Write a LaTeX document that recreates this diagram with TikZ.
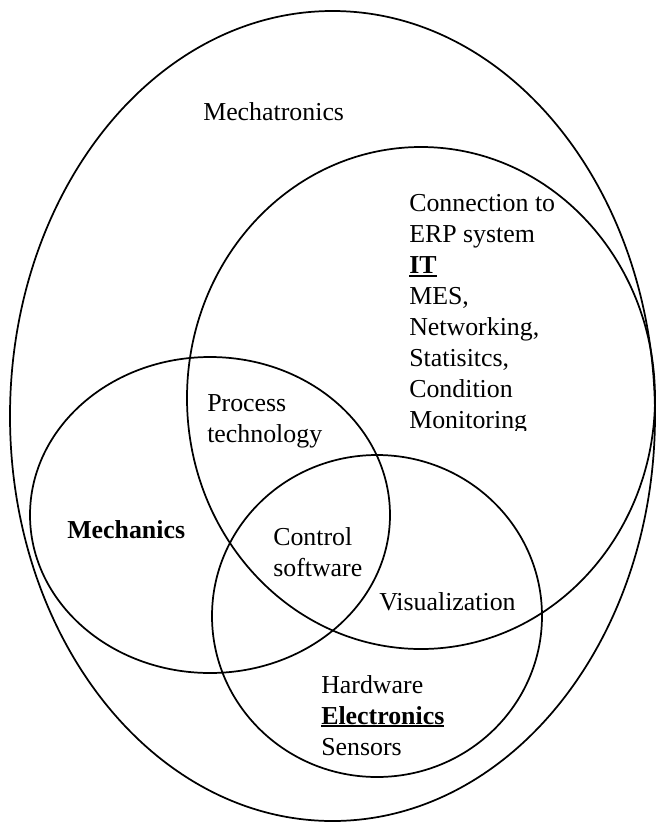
\documentclass[tikz,border=0pt]{standalone}
\usepackage{fontspec}
\setmainfont{Liberation Serif}
\usepackage{tikz}
\usetikzlibrary{positioning}

\newcommand{\thickul}[1]{\setbox0\hbox{#1}\rlap{\rule[-2.4pt]{\wd0}{1.6pt}}\box0}

\begin{document}
\begin{tikzpicture}[
    x=0.75pt, y=-0.75pt,
    ring/.style={draw=black, line width=1.3pt},
    label/.style={anchor=base west, inner sep=0pt, align=left, font=\fontsize{19.4pt}{23.15pt}\selectfont}
]
\useasboundingbox (0,0) rectangle (657,822);

% Sets
\draw[ring] (332.5,416) ellipse [x radius=322.5, y radius=405];
\draw[ring] (421,398) ellipse [x radius=234, y radius=251];
\draw[ring] (210,515) ellipse [x radius=180, y radius=158];
\draw[ring] (377,616) ellipse [x radius=165, y radius=161];

% Labels (anchored at the last baseline)
\node[label] (mechatronics) at (203,120) {Mechatronics};
\begin{scope}
  \clip (380,180) rectangle (570,430);
  \node[label] (it) at (409,428) {Connection to\\ERP system\\\textbf{\thickul{IT}}\\MES,\\Networking,\\Statisitcs,\\Condition\\Monitoring};
\end{scope}
\node[label] (process) at (207,442) {Process\\technology};
\node[label] (mechanics) at (67,538) {\textbf{Mechanics}};
\node[label] (control) at (273,576) {Control\\software};
\node[label] (visual) at (379,610) {Visualization};
\node[label] (electronics) at (321,755) {Hardware\\\textbf{\thickul{Electronics}}\\Sensors};

\end{tikzpicture}
\end{document}
